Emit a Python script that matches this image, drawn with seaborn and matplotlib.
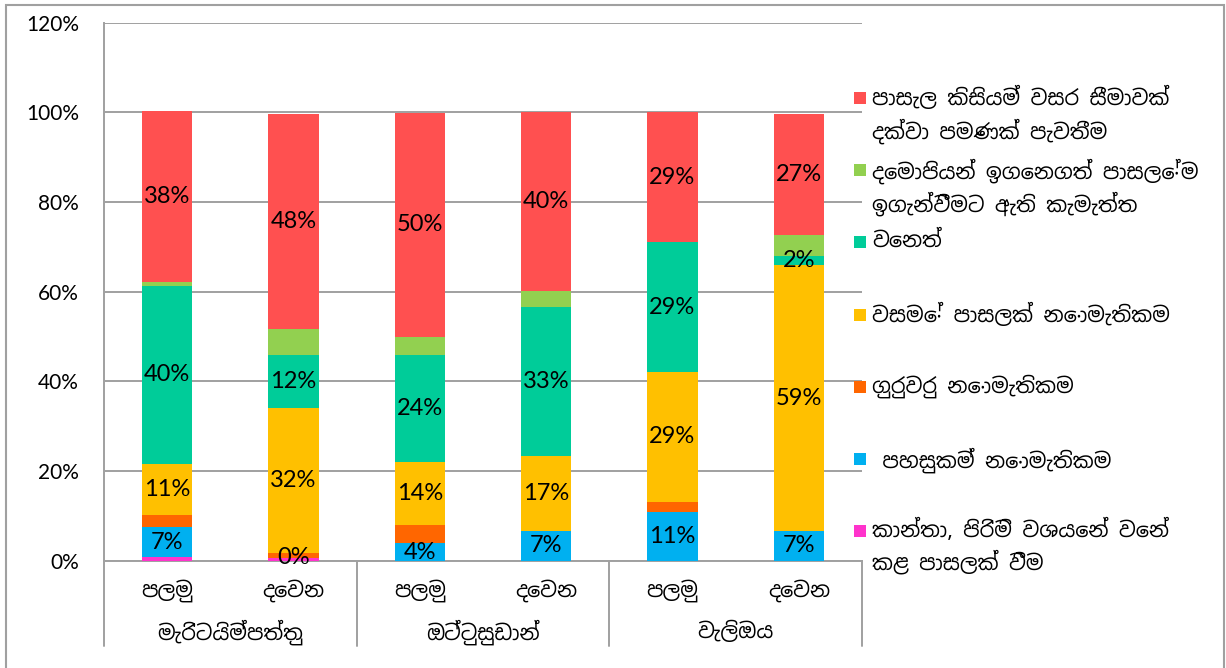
import numpy as np
import pandas as pd
import matplotlib
matplotlib.use('Agg')
import matplotlib.pyplot as plt
import seaborn as sns
from matplotlib import font_manager
from matplotlib.patches import Rectangle
from matplotlib.ticker import PercentFormatter
from fontTools.ttLib import TTFont

# groups / bars
groups = ['මැරිටයිම්පත්තු', 'ඔට්ටුසුඩාන්', 'වැලිඔය']
rounds = ['පලමු', 'දෙවන']

# stacked series, bottom to top (percent)
series_names = [
    'කාන්තා, පිරිමි වශයෙන් වෙන්\nකළ පාසලක් වීම',
    ' පහසුකම් නොමැතිකම',
    'ගුරුවරු නොමැතිකම',
    'වසමේ පාසලක් නොමැතිකම',
    'වෙනත්',
    'දෙමාපියන් ඉගෙනගත් පාසලේම\nඉගැන්වීමට ඇති කැමැත්ත',
    'පාසැල කිසියම් වසර සීමාවක්\nදක්වා පමණක් පැවතීම',
]
pink = [0.9, 0.7, 0.0, 0.0, 0.0, 0.0]
blue = [6.6, 0.0, 3.9, 6.7, 10.9, 6.7]
orange = [2.8, 1.0, 4.1, 0.0, 2.2, 0.0]
yellow = [11.4, 32.4, 14.0, 16.7, 29.1, 59.2]
teal = [39.5, 11.7, 23.9, 33.3, 28.8, 2.1]
green = [1.0, 5.9, 4.0, 3.4, 0.0, 4.6]
red = [38.1, 47.9, 50.0, 40.0, 29.1, 27.0]

colors = ['#FF33CC', '#00B0F0', '#FF6600', '#FFC000', '#00CC99', '#92D050', '#FF5050']
labelled = [False, True, False, True, True, False, True]


def find_sinhala_font():
    # look for an installed font with Sinhala glyphs, sans first
    found = []
    for f in font_manager.fontManager.ttflist:
        try:
            cmap = TTFont(f.fname, fontNumber=0, lazy=True).getBestCmap()
        except Exception:
            continue
        if cmap and 0x0DB4 in cmap:
            found.append(f.name)
    if not found:
        return None
    found.sort(key=lambda n: ('Sans' not in n, 'UI' in n, n))
    return found[0]


sns.set_style('white')
sin_font = find_sinhala_font()
families = [sin_font, 'Lato', 'DejaVu Sans'] if sin_font else ['Lato', 'DejaVu Sans']
plt.rcParams['font.family'] = families
plt.rcParams['text.color'] = 'black'
plt.rcParams['ytick.color'] = 'black'

values = [pink, blue, orange, yellow, teal, green, red]
cum = np.cumsum(np.array(values), axis=0)
pos = list(range(len(pink)))

W, H = 1226, 668
fig = plt.figure(figsize=(W / 100, H / 100), dpi=100)
ax = fig.add_axes([0.0848, 0.1602, 0.6183, 0.8061])

# draw tallest cumulative first so lower series sit on top
for i in range(len(values) - 1, -1, -1):
    sns.barplot(x=pos, y=cum[i], color=colors[i], width=0.4, saturation=1,
                linewidth=0, ax=ax, zorder=3)

# data labels in the middle of each labelled segment
for i, vals in enumerate(values):
    if not labelled[i]:
        continue
    for j, v in enumerate(vals):
        ax.text(j, cum[i][j] - v / 2, '%d%%' % round(v), ha='center', va='center',
                fontsize=17, family=['Lato'], color='black', zorder=5)

ax.set_ylim(0, 120)
ax.set_xlim(-0.5, 5.5)
ax.set_yticks(range(0, 121, 20))
ax.yaxis.set_major_formatter(PercentFormatter(100, decimals=0))
ax.tick_params(axis='y', labelsize=15, length=0, pad=18, labelcolor='black')
for t in ax.get_yticklabels():
    t.set_family(['Lato'])
ax.set_xticks([])
ax.set(xlabel=None, ylabel=None)
ax.grid(axis='y', color='#a0a0a0', linewidth=1.4, zorder=0)
ax.set_axisbelow(True)

for s in ['top', 'right']:
    ax.spines[s].set_visible(False)
for s in ['left', 'bottom']:
    ax.spines[s].set_color('#a0a0a0')
    ax.spines[s].set_linewidth(1.4)

# two-level category axis
trans = ax.get_xaxis_transform()
for j in pos:
    ax.text(j, -0.055, rounds[j % 2], transform=trans, ha='center', va='center',
            fontsize=15, color='black')
for g, name in enumerate(groups):
    ax.text(2 * g + 0.5, -0.132, name, transform=trans, ha='center', va='center',
            fontsize=15, color='black')
for xs in [-0.5, 1.5, 3.5, 5.5]:
    ax.plot([xs, xs], [0, -0.158], transform=trans, color='#a0a0a0', linewidth=1.4, clip_on=False)

# legend, top entry first, first lines evenly spaced like the original
for k, i in enumerate(range(len(values) - 1, -1, -1)):
    yc = 98 + 72.2 * k
    fig.add_artist(Rectangle((854 / W, 1 - (yc + 6) / H), 12 / W, 12 / H,
                             transform=fig.transFigure, color=colors[i], lw=0))
    fig.text(872 / W, 1 - (yc - 12) / H, series_names[i], ha='left', va='top',
             fontsize=15, linespacing=1.4, color='black')

# outer chart frame
fig.add_artist(Rectangle((6 / W, -0.05), 1218 / W, 1.05 - 5 / H, transform=fig.transFigure,
                         fill=False, edgecolor='#a0a0a0', linewidth=1.5))

fig.savefig('out.png', dpi=100)
